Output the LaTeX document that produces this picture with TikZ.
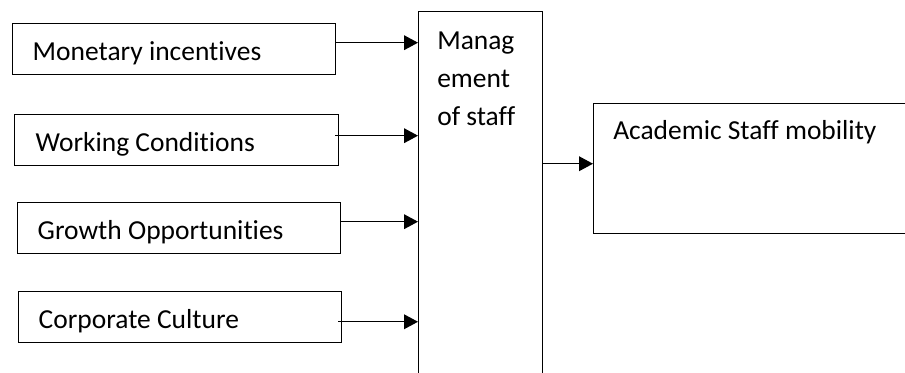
\documentclass[tikz,border=0pt]{standalone}
\usepackage{fontspec}
\setmainfont{Carlito}[Ligatures=NoCommon]
\usetikzlibrary{arrows.meta}

\begin{document}
\begin{tikzpicture}[x=0.75pt,y=0.75pt,yscale=-1,xscale=1,
    every node/.style={font=\fontsize{20.6}{28.5}\selectfont},
    factor/.style={draw,line width=1.1pt,anchor=north west,minimum height=38.25pt,inner xsep=15pt,inner ysep=0pt,text width=212pt,text height=17.25pt,text depth=0pt,align=flush left},
    arr/.style={line width=1.1pt,-{Triangle[length=10.5pt,width=11pt]}}]

            % Frame
            \path[use as bounding box,clip] (0,0) rectangle (905,373);

            % Boxes
            \draw (12,23) node [factor] (money) {Monetary incentives};
            \draw (14,114) node [factor,inner xsep=15.75pt,text width=211.5pt] (work) {Working Conditions};
            \draw (17,202) node [factor] (growth) {Growth Opportunities};
            \draw (18,291) node [factor] (culture) {Corporate Culture};
            \draw (418,11) node [draw,line width=1.1pt,anchor=north west,minimum width=93pt,minimum height=300pt,inner sep=0pt] (mgmt) {};
            \draw (593,103) node [draw,line width=1.1pt,anchor=north west,minimum width=241.5pt,minimum height=97.5pt,inner sep=0pt] (mobility) {};

            % Labels
            \draw (437,32) node [anchor=north west,inner sep=0pt,align=left] (mgmttext) {Manag\\ement\\of staff};
            \draw (613,140) node [anchor=base west,inner sep=0pt] (mobilitytext) {Academic Staff mobility};

            % Arrows
            \draw[arr] ([yshift=-4.9pt]money.east) -- ([yshift=-4.9pt]money.east -| mgmt.west);
            \draw[arr] ([yshift=-3.4pt,xshift=-3pt]work.east) -- ([yshift=-3.4pt]work.east -| mgmt.west);
            \draw[arr] ([yshift=-4.9pt]growth.east) -- ([yshift=-4.9pt]growth.east -| mgmt.west);
            \draw[arr] ([yshift=3.4pt,xshift=-3pt]culture.east) -- ([yshift=3.4pt]culture.east -| mgmt.west);
            \draw[arr] ([yshift=-3.75pt]mobility.west -| mgmt.east) -- ([yshift=-3.75pt]mobility.west);

\end{tikzpicture}
\end{document}
